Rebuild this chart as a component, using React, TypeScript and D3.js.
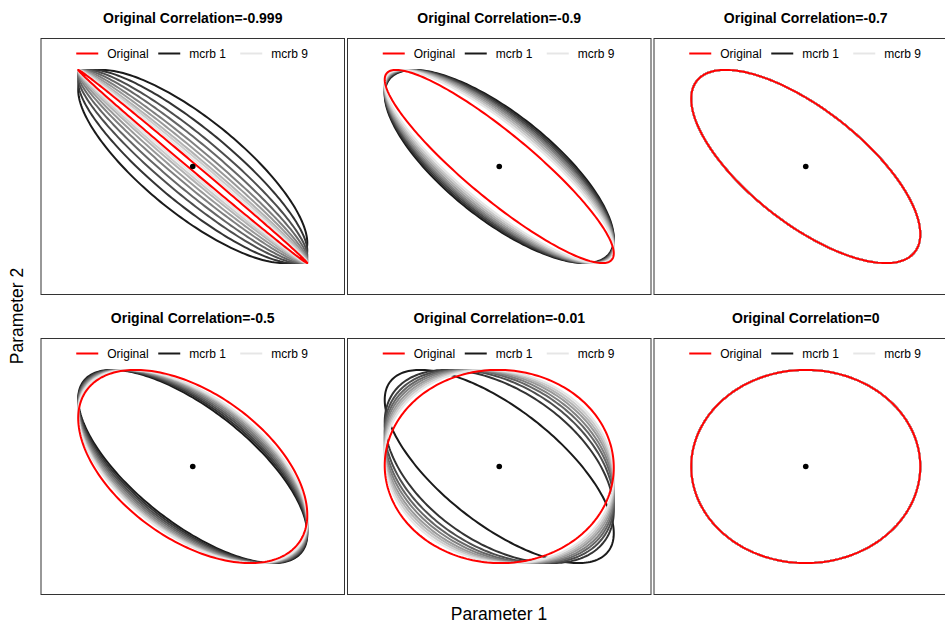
import React from "react";
import * as d3 from "d3";

const originalCorr = [-0.999, -0.9, -0.7, -0.5, -0.01, 0];
const panelTitles = ["-0.999", "-0.9", "-0.7", "-0.5", "-0.01", "0"];
const mcrbP1 = [-0.79, -0.87, -0.92, -0.95, -0.97, -0.982, -0.99, -0.994, -0.997];
const mcrbP2 = [-0.745, -0.76, -0.775, -0.79, -0.8, -0.815, -0.83, -0.845, -0.86];
const mcrbP3 = [-0.7, -0.7, -0.7, -0.7, -0.7, -0.7, -0.7, -0.7, -0.7];
const mcrbP4 = [-0.7, -0.68, -0.66, -0.64, -0.62, -0.6, -0.58, -0.565, -0.55];
const mcrbP5 = [-0.69, -0.46, -0.38, -0.32, -0.27, -0.22, -0.18, -0.14, -0.1];
const mcrbP6 = [0, 0, 0, 0, 0, 0, 0, 0, 0];
const mcrbSets = [mcrbP1, mcrbP2, mcrbP3, mcrbP4, mcrbP5, mcrbP6];
const legendLabels = ["Original", "mcrb 1", "mcrb 9"];
const greyLevels = [0.1, 0.2, 0.3, 0.4, 0.5, 0.6, 0.7, 0.8, 0.9];

const greyColors = greyLevels.map((g) => {
  const v = Math.round(g * 255);
  return `rgb(${v},${v},${v})`;
});

const W = 945, H = 623;
const colX = [41, 347.5, 654];
const rowY = [38.5, 338.5];
const PW = 303.5, PH = 256;
const font = "'Liberation Sans', Arial, sans-serif";

function ellipsePoints(rho: number): [number, number][] {
  const n = 240;
  const s = Math.sqrt(Math.max(0, 1 - rho * rho));
  return d3.range(n).map((i) => {
    const t = (2 * Math.PI * i) / n;
    return [Math.cos(t), rho * Math.cos(t) + s * Math.sin(t)] as [number, number];
  });
}

function Panel({ idx }: { idx: number }) {
  const col = idx % 3, row = Math.floor(idx / 3);
  const x0 = colX[col], y0 = rowY[row];
  const xs = d3.scaleLinear().domain([-1.325, 1.325]).range([x0, x0 + PW]);
  const ys = d3.scaleLinear().domain([-1.325, 1.325]).range([y0 + PH, y0]);
  const line = d3
    .line<[number, number]>()
    .x((d) => xs(d[0]))
    .y((d) => ys(d[1]))
    .curve(d3.curveLinearClosed);
  const cx = x0 + PW / 2;
  const legY = y0 + 15;
  const legStarts = [-116.5, -34.5, 47.5];
  const legColors = ["#FF0000", greyColors[0], greyColors[8]];
  return (
    <g>
      <text x={cx} y={y0 - 15.5} textAnchor="middle" fontFamily={font} fontWeight="bold" fontSize={14}>
        {"Original Correlation=" + panelTitles[idx]}
      </text>
      <rect x={x0} y={y0} width={PW} height={PH} fill="white" stroke="#333" strokeWidth={1} />
      {legendLabels.map((lab, i) => (
        <g key={lab}>
          <line x1={cx + legStarts[i]} x2={cx + legStarts[i] + 22} y1={legY} y2={legY} stroke={legColors[i]} strokeWidth={2} />
          <text x={cx + legStarts[i] + 31} y={legY + 4} fontFamily={font} fontSize={12} fill="#000">
            {lab}
          </text>
        </g>
      ))}
      {mcrbSets[idx].map((r, k) => (
        <path key={k} d={line(ellipsePoints(r)) || ""} fill="none" stroke={greyColors[k]} strokeWidth={2} />
      ))}
      <path d={line(ellipsePoints(originalCorr[idx])) || ""} fill="none" stroke="#FF0000" strokeWidth={2} />
      <circle cx={xs(0)} cy={ys(0)} r={2.8} fill="#000" />
    </g>
  );
}

export default function App() {
  return (
    <svg width={W} height={H} style={{ position: "absolute", left: 0, top: 0, background: "white" }}>
      <rect x={0} y={0} width={W} height={H} fill="white" />
      {d3.range(6).map((i) => (
        <Panel key={i} idx={i} />
      ))}
      <text x={499} y={620} textAnchor="middle" fontFamily={font} fontSize={17.5}>
        Parameter 1
      </text>
      <text transform="translate(23,316) rotate(-90)" textAnchor="middle" fontFamily={font} fontSize={17.5}>
        Parameter 2
      </text>
    </svg>
  );
}
